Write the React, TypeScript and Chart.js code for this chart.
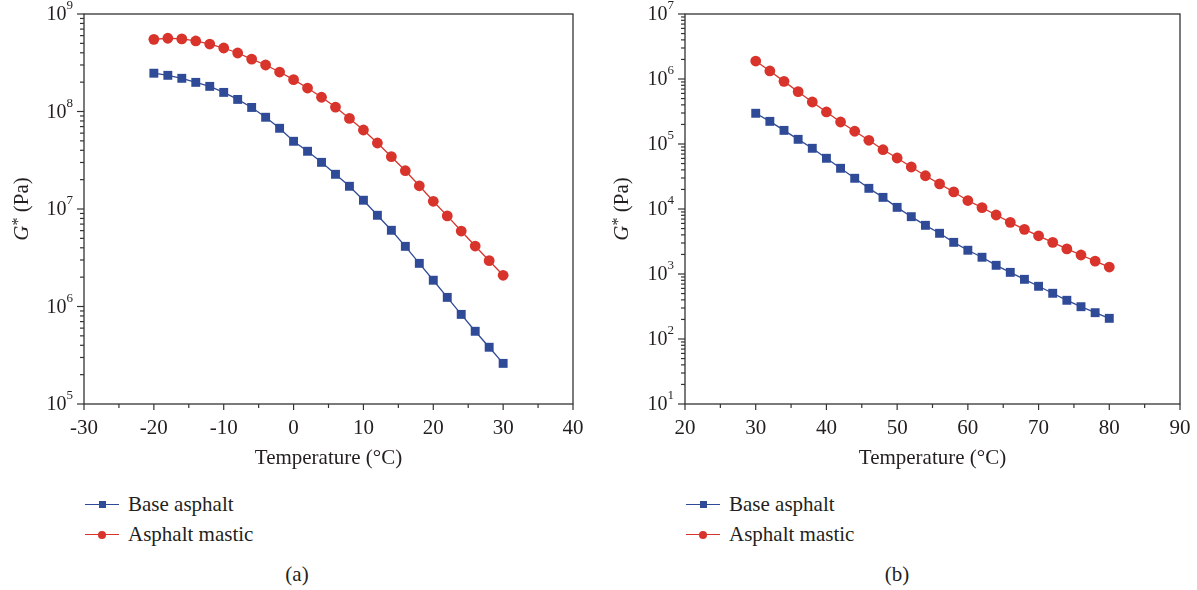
import React, { useEffect, useRef } from 'react';
import { Chart, registerables } from 'chart.js';

Chart.register(...registerables);

// ---------- data ----------
const TEMP_A = [-20, -18, -16, -14, -12, -10, -8, -6, -4, -2, 0, 2, 4, 6, 8, 10, 12, 14, 16, 18, 20, 22, 24, 26, 28, 30];
const BASE_A = [2.47e8, 2.35e8, 2.19e8, 1.99e8, 1.81e8, 1.57e8, 1.33e8, 1.10e8, 8.73e7, 6.73e7, 4.95e7, 3.91e7, 3.01e7, 2.27e7, 1.71e7, 1.23e7, 8.62e6, 6.05e6, 4.14e6, 2.77e6, 1.86e6, 1.24e6, 8.3e5, 5.57e5, 3.82e5, 2.61e5];
const MASTIC_A = [5.5e8, 5.64e8, 5.55e8, 5.29e8, 4.92e8, 4.48e8, 3.98e8, 3.45e8, 3.0e8, 2.54e8, 2.12e8, 1.74e8, 1.40e8, 1.11e8, 8.5e7, 6.46e7, 4.75e7, 3.44e7, 2.47e7, 1.73e7, 1.2e7, 8.5e6, 5.94e6, 4.17e6, 2.95e6, 2.09e6];

const TEMP_B = [30, 32, 34, 36, 38, 40, 42, 44, 46, 48, 50, 52, 54, 56, 58, 60, 62, 64, 66, 68, 70, 72, 74, 76, 78, 80];
const BASE_B = [2.97e5, 2.23e5, 1.62e5, 1.18e5, 8.59e4, 6.03e4, 4.23e4, 2.97e4, 2.08e4, 1.51e4, 1.06e4, 7.62e3, 5.61e3, 4.23e3, 3.07e3, 2.32e3, 1.81e3, 1.36e3, 1.06e3, 828, 647, 505, 394, 314, 254, 208];
const MASTIC_B = [1.89e6, 1.33e6, 9.2e5, 6.38e5, 4.43e5, 3.11e5, 2.18e5, 1.57e5, 1.14e5, 8.17e4, 6.09e4, 4.43e4, 3.25e4, 2.43e4, 1.83e4, 1.35e4, 1.05e4, 8.09e3, 6.24e3, 4.87e3, 3.87e3, 3.07e3, 2.43e3, 1.96e3, 1.58e3, 1.28e3];

const X_TICKS_A = [-30, -20, -10, 0, 10, 20, 30, 40];
const X_TICKS_B = [20, 30, 40, 50, 60, 70, 80, 90];
const Y_EXPS_A = [5, 6, 7, 8, 9];
const Y_EXPS_B = [1, 2, 3, 4, 5, 6, 7];

const SERIES_NAMES = ['Base asphalt', 'Asphalt mastic'];
const X_TITLE = 'Temperature (°C)';
const CAPTIONS = ['(a)', '(b)'];

// ---------- styles ----------
const FONT = '"Liberation Serif", "Times New Roman", serif';
const TEXT = '#231f20';
const AXIS = '#333333';
const BLUE = '#2f4b98';
const RED = '#d8342c';

function axesPlugin(xTicks: number[], yExps: number[], titleX: number) {
  return {
    id: 'customAxes',
    afterDraw(chart: any) {
      const { ctx, chartArea: a } = chart;
      const x = chart.scales.x;
      const y = chart.scales.y;
      ctx.save();
      ctx.strokeStyle = AXIS;
      ctx.lineWidth = 1.3;
      ctx.strokeRect(a.left, a.top, a.right - a.left, a.bottom - a.top);

      const line = (x1: number, y1: number, x2: number, y2: number) => {
        ctx.beginPath();
        ctx.moveTo(x1, y1);
        ctx.lineTo(x2, y2);
        ctx.stroke();
      };
      ctx.lineWidth = 1.2;
      // x ticks
      for (let i = 0; i < xTicks.length; i++) {
        const px = x.getPixelForValue(xTicks[i]);
        line(px, a.bottom, px, a.bottom + 6);
        if (i < xTicks.length - 1) {
          const mp = x.getPixelForValue((xTicks[i] + xTicks[i + 1]) / 2);
          line(mp, a.bottom, mp, a.bottom + 4);
        }
      }
      // y ticks
      for (let i = 0; i < yExps.length; i++) {
        const base = Math.pow(10, yExps[i]);
        const py = y.getPixelForValue(base);
        line(a.left - 7, py, a.left, py);
        if (i < yExps.length - 1) {
          for (let k = 2; k <= 9; k++) {
            const my = y.getPixelForValue(k * base);
            line(a.left - 4, my, a.left, my);
          }
        }
      }
      // x labels
      ctx.fillStyle = TEXT;
      ctx.font = `21px ${FONT}`;
      ctx.textAlign = 'center';
      ctx.textBaseline = 'middle';
      for (const v of xTicks) {
        ctx.fillText(String(v), x.getPixelForValue(v), a.bottom + 24);
      }
      // y labels
      for (const e of yExps) {
        const py = y.getPixelForValue(Math.pow(10, e));
        ctx.font = `13px ${FONT}`;
        const ew = ctx.measureText(String(e)).width;
        const right = a.left - 11;
        ctx.textAlign = 'left';
        ctx.fillText(String(e), right - ew, py - 8);
        ctx.font = `20px ${FONT}`;
        ctx.textAlign = 'right';
        ctx.fillText('10', right - ew, py + 1);
      }
      // x title
      ctx.font = `21px ${FONT}`;
      ctx.textAlign = 'center';
      ctx.fillText(X_TITLE, (a.left + a.right) / 2, a.bottom + 54);
      // y title
      ctx.translate(titleX, (a.top + a.bottom) / 2);
      ctx.rotate(-Math.PI / 2);
      ctx.textAlign = 'left';
      const partG = 'G';
      const partS = '*';
      const partR = ' (Pa)';
      ctx.font = `italic 21px ${FONT}`;
      const wG = ctx.measureText(partG).width;
      ctx.font = `16px ${FONT}`;
      const wS = ctx.measureText(partS).width;
      ctx.font = `21px ${FONT}`;
      const wR = ctx.measureText(partR).width;
      let cx = -(wG + wS + wR) / 2;
      ctx.font = `italic 21px ${FONT}`;
      ctx.fillText(partG, cx, 0);
      cx += wG;
      ctx.font = `16px ${FONT}`;
      ctx.fillText(partS, cx, -3);
      cx += wS;
      ctx.font = `21px ${FONT}`;
      ctx.fillText(partR, cx, 0);
      ctx.restore();
    },
  };
}

type PanelProps = {
  temps: number[];
  base: number[];
  mastic: number[];
  xTicks: number[];
  yExps: number[];
  width: number;
  padRight: number;
  yAxisWidth: number;
  titleX: number;
};

function Panel(p: PanelProps) {
  const ref = useRef<HTMLCanvasElement | null>(null);
  useEffect(() => {
    if (!ref.current) return;
    const chart = new Chart(ref.current, {
      type: 'line',
      data: {
        datasets: [
          {
            label: SERIES_NAMES[0],
            data: p.temps.map((t, i) => ({ x: t, y: p.base[i] })),
            borderColor: BLUE,
            backgroundColor: BLUE,
            borderWidth: 1.3,
            pointStyle: 'rect',
            pointRadius: 6.3,
            pointBorderWidth: 0,
            tension: 0,
          },
          {
            label: SERIES_NAMES[1],
            data: p.temps.map((t, i) => ({ x: t, y: p.mastic[i] })),
            borderColor: RED,
            backgroundColor: RED,
            borderWidth: 1.3,
            pointStyle: 'circle',
            pointRadius: 5.4,
            pointBorderWidth: 0,
            tension: 0,
          },
        ],
      },
      options: {
        animation: false,
        responsive: false,
        devicePixelRatio: 1,
        layout: { padding: { left: 0, right: p.padRight, top: 14, bottom: 0 } },
        plugins: { legend: { display: false }, tooltip: { enabled: false } },
        scales: {
          x: {
            type: 'linear',
            min: p.xTicks[0],
            max: p.xTicks[p.xTicks.length - 1],
            grid: { display: false },
            border: { display: false },
            ticks: { display: false },
            afterFit: (s: any) => { s.height = 76; },
          },
          y: {
            type: 'logarithmic',
            min: Math.pow(10, p.yExps[0]),
            max: Math.pow(10, p.yExps[p.yExps.length - 1]),
            grid: { display: false },
            border: { display: false },
            ticks: { display: false },
            afterFit: (s: any) => { s.width = p.yAxisWidth; },
          },
        },
      } as any,
      plugins: [axesPlugin(p.xTicks, p.yExps, p.titleX)],
    });
    return () => chart.destroy();
  }, []);
  return <canvas ref={ref} width={p.width} height={480} style={{ display: 'block' }} />;
}

function LegendItem({ color, shape, label, left, top }: { color: string; shape: 'rect' | 'circle'; label: string; left: number; top: number }) {
  return (
    <div style={{ position: 'absolute', left, top, height: 20 }}>
      <div style={{ position: 'absolute', left: 0, top: 9, width: 34, height: 1.4, background: color }} />
      <div
        style={{
          position: 'absolute',
          left: shape === 'rect' ? 13.5 : 13,
          top: shape === 'rect' ? 6.2 : 5.7,
          width: shape === 'rect' ? 7 : 8,
          height: shape === 'rect' ? 7 : 8,
          borderRadius: shape === 'rect' ? 0 : '50%',
          background: color,
        }}
      />
      <div style={{ position: 'absolute', left: 43, top: -3, whiteSpace: 'nowrap', font: `21px ${FONT}`, color: TEXT, lineHeight: '24px' }}>
        {label}
      </div>
    </div>
  );
}

export default function App() {
  return (
    <div style={{ position: 'fixed', left: 0, top: 0, width: 1197, height: 590, background: '#fff', overflow: 'hidden' }}>
      <div style={{ position: 'absolute', left: 0, top: 0 }}>
        <Panel temps={TEMP_A} base={BASE_A} mastic={MASTIC_A} xTicks={X_TICKS_A} yExps={Y_EXPS_A} width={598} padRight={25} yAxisWidth={84} titleX={22} />
      </div>
      <div style={{ position: 'absolute', left: 598, top: 0 }}>
        <Panel temps={TEMP_B} base={BASE_B} mastic={MASTIC_B} xTicks={X_TICKS_B} yExps={Y_EXPS_B} width={599} padRight={17} yAxisWidth={87} titleX={24} />
      </div>
      <LegendItem color={BLUE} shape="rect" label={SERIES_NAMES[0]} left={85} top={495} />
      <LegendItem color={RED} shape="circle" label={SERIES_NAMES[1]} left={85} top={525} />
      <LegendItem color={BLUE} shape="rect" label={SERIES_NAMES[0]} left={686} top={495} />
      <LegendItem color={RED} shape="circle" label={SERIES_NAMES[1]} left={686} top={525} />
      <div style={{ position: 'absolute', left: 247, width: 100, top: 562, textAlign: 'center', font: `21px ${FONT}`, color: TEXT }}>{CAPTIONS[0]}</div>
      <div style={{ position: 'absolute', left: 847, width: 100, top: 562, textAlign: 'center', font: `21px ${FONT}`, color: TEXT }}>{CAPTIONS[1]}</div>
    </div>
  );
}
